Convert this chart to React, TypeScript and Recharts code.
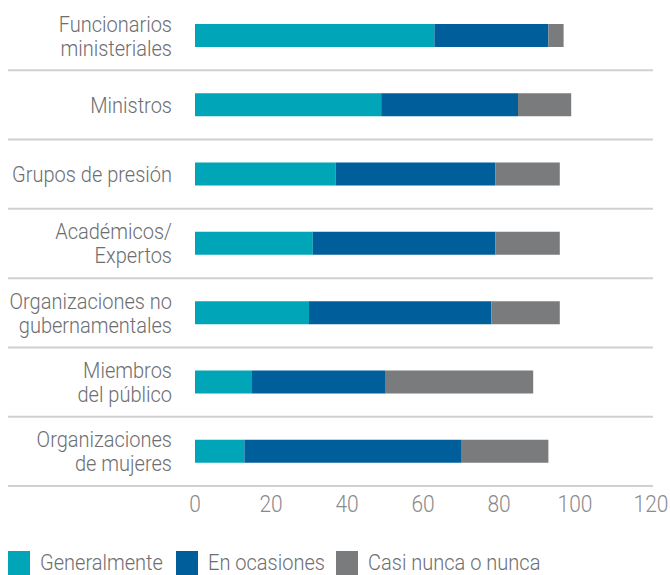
import { BarChart, Bar, XAxis, YAxis, Legend } from 'recharts';

const categories = [
  "Funcionarios\nministeriales",
  "Ministros",
  "Grupos de presión",
  "Académicos/\nExpertos",
  "Organizaciones no\ngubernamentales",
  "Miembros\ndel público",
  "Organizaciones\nde mujeres",
];
const generalmente = [63, 49, 37, 31, 30, 15, 13];
const enOcasiones = [30, 36, 42, 48, 48, 35, 57];
const casiNunca = [4, 14, 17, 17, 18, 39, 23];
const xTicks = [0, 20, 40, 60, 80, 100, 120];

const seriesNames = ["Generalmente", "En ocasiones", "Casi nunca o nunca"];
const colors = ["#00a5b8", "#005e9b", "#7a7b7d"];

const data = categories.map((name, i) => ({
  name,
  g: generalmente[i],
  o: enOcasiones[i],
  c: casiNunca[i],
}));

// condensed look: Roboto light squeezed horizontally
const FONT = "Roboto, 'Noto Sans', sans-serif";
const SQUEEZE = 0.91;
const FS = 22;
const W = 670;
const H = 575;
const TOP = 1;
const PLOT_H = 485;
const BAND = PLOT_H / categories.length;

function CategoryTick(props: any) {
  const { y, payload } = props;
  const lines = String(payload.value).split("\n");
  const lh = 24;
  const start = y - ((lines.length - 1) * lh) / 2;
  return (
    <g>
      {lines.map((l, i) => (
        <g key={i} transform={`translate(172,${start + i * lh}) scale(${SQUEEZE},1)`}>
          <text textAnchor="end" fontFamily={FONT} fontWeight={300} fontSize={FS} fill="#6d6e71" x={0} y={0} dy="0.36em">
            {l}
          </text>
        </g>
      ))}
      <line x1={8} x2={653} y1={y + BAND / 2} y2={y + BAND / 2} stroke="#d0d0d0" strokeWidth={2} />
    </g>
  );
}

function ValueTick(props: any) {
  const { x, y, payload } = props;
  return (
    <g transform={`translate(${x},${y}) scale(${SQUEEZE},1)`}>
      <text textAnchor="middle" fontFamily={FONT} fontWeight={300} fontSize={FS + 1} fill="#8a8a8c" y={10} dy="0.36em">
        {payload.value}
      </text>
    </g>
  );
}

const legendX = [8, 176, 336];

function LegendContent() {
  return (
    <div style={{ position: 'relative', height: 25, fontFamily: FONT, fontWeight: 300, fontSize: FS, color: '#6d6e71' }}>
      {seriesNames.map((n, i) => (
        <div key={n} style={{ position: 'absolute', left: legendX[i], top: 0, display: 'flex', alignItems: 'center', height: 25 }}>
          <span style={{ width: 22, height: 24, background: colors[i], display: 'inline-block', marginRight: 10 }} />
          <span style={{ display: 'inline-block', transform: `scaleX(${SQUEEZE})`, transformOrigin: 'left center', whiteSpace: 'nowrap', lineHeight: '25px' }}>{n}</span>
        </div>
      ))}
    </div>
  );
}

export default function App() {
  return (
    <div style={{ position: 'absolute', left: 0, top: 0, background: '#fff' }}>
      <BarChart
        width={W}
        height={H}
        data={data}
        layout="vertical"
        margin={{ top: TOP, right: 19, left: 0, bottom: 0 }}
        barSize={23}
      >
        <XAxis
          type="number"
          domain={[0, 120]}
          ticks={xTicks}
          axisLine={false}
          tickLine={false}
          height={64}
          tick={<ValueTick />}
        />
        <YAxis
          type="category"
          dataKey="name"
          width={195}
          axisLine={false}
          tickLine={false}
          interval={0}
          tick={<CategoryTick />}
        />
        <Legend
          verticalAlign="bottom"
          align="left"
          content={<LegendContent />}
          wrapperStyle={{ left: 0, width: W, height: 25 }}
        />
        <Bar dataKey="g" name={seriesNames[0]} stackId="a" fill={colors[0]} isAnimationActive={false} />
        <Bar dataKey="o" name={seriesNames[1]} stackId="a" fill={colors[1]} isAnimationActive={false} />
        <Bar dataKey="c" name={seriesNames[2]} stackId="a" fill={colors[2]} isAnimationActive={false} />
      </BarChart>
    </div>
  );
}
